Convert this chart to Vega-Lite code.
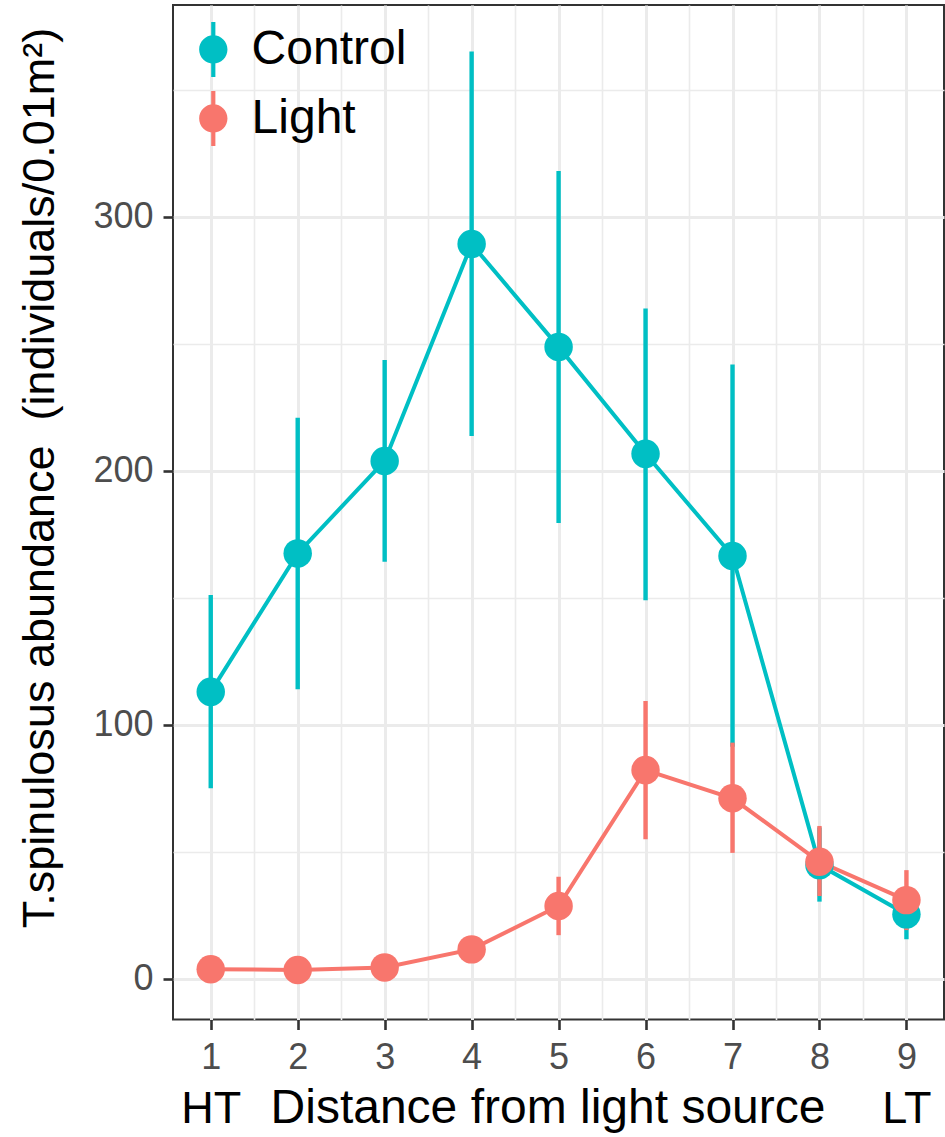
{
  "$schema": "https://vega.github.io/schema/vega-lite/v6.json",
  "width": 771,
  "height": 1014.5,
  "autosize": {"type": "none"},
  "padding": {"left": 173, "top": 5, "right": 1, "bottom": 117.5},
  "background": "white",
  "config": {
    "view": {"stroke": "#333333", "strokeWidth": 2},
    "font": "Liberation Sans"
  },
  "data": {
    "values": [
      {"dist": 1, "group": "Control", "mean": 113.0, "lo": 75.0, "hi": 151.1},
      {"dist": 2, "group": "Control", "mean": 167.5, "lo": 114.0, "hi": 220.9},
      {"dist": 3, "group": "Control", "mean": 203.9, "lo": 164.2, "hi": 243.6},
      {"dist": 4, "group": "Control", "mean": 289.3, "lo": 213.7, "hi": 365.1},
      {"dist": 5, "group": "Control", "mean": 248.8, "lo": 179.5, "hi": 318.0},
      {"dist": 6, "group": "Control", "mean": 206.7, "lo": 149.1, "hi": 263.9},
      {"dist": 7, "group": "Control", "mean": 166.5, "lo": 91.4, "hi": 241.9},
      {"dist": 8, "group": "Control", "mean": 44.8, "lo": 30.4, "hi": 59.6},
      {"dist": 9, "group": "Control", "mean": 25.4, "lo": 15.6, "hi": 35.0},
      {"dist": 1, "group": "Light", "mean": 3.8, "lo": 2.0, "hi": 5.6},
      {"dist": 2, "group": "Light", "mean": 3.5, "lo": 2.2, "hi": 4.8},
      {"dist": 3, "group": "Light", "mean": 4.5, "lo": 2.8, "hi": 6.2},
      {"dist": 4, "group": "Light", "mean": 11.6, "lo": 8.5, "hi": 14.7},
      {"dist": 5, "group": "Light", "mean": 28.7, "lo": 17.2, "hi": 40.2},
      {"dist": 6, "group": "Light", "mean": 82.2, "lo": 55.0, "hi": 109.4},
      {"dist": 7, "group": "Light", "mean": 71.1, "lo": 49.6, "hi": 93.0},
      {"dist": 8, "group": "Light", "mean": 46.1, "lo": 32.6, "hi": 60.2},
      {"dist": 9, "group": "Light", "mean": 31.0, "lo": 19.2, "hi": 42.8}
    ]
  },
  "resolve": {"axis": {"x": "independent"}},
  "layer": [
    {
      "mark": {"type": "rule", "strokeWidth": 4.4},
      "encoding": {
        "x": {
          "field": "dist", "type": "quantitative",
          "scale": {"domain": [0.566, 9.432], "nice": false, "zero": false},
          "axis": {
            "orient": "bottom", "values": [1, 9],
            "labelExpr": "datum.value == 1 ? 'HT' : 'LT'",
            "ticks": false, "tickSize": 0, "domain": false, "grid": false,
            "labelFontSize": 45, "labelColor": "black", "labelFont": "Liberation Sans",
            "labelPadding": 102.5, "labelBaseline": "alphabetic",
            "labelOverlap": false, "labelFlush": false, "title": null
          }
        },
        "y": {
          "field": "lo", "type": "quantitative",
          "scale": {"domain": [-16, 383.4], "nice": false, "zero": false},
          "axis": {
            "values": [0, 50, 100, 150, 200, 250, 300, 350],
            "labelExpr": "datum.value % 100 == 0 ? '' + datum.value : ''",
            "tickOpacity": {"condition": {"test": "datum.value % 100 != 0", "value": 0}, "value": 1},
            "gridWidth": {"condition": {"test": "datum.value % 100 != 0", "value": 1.6}, "value": 3},
            "grid": true, "gridColor": "#EBEBEB",
            "domain": false,
            "tickSize": 10, "tickWidth": 2.6, "tickColor": "#333333",
            "labelFontSize": 36, "labelColor": "#4D4D4D", "labelFont": "Liberation Sans",
            "labelPadding": 10, "labelOverlap": false, "labelFlush": false,
            "title": "T.spinulosus abundance \u00a0(individuals/0.01m²)",
            "titleFontSize": 45, "titleColor": "black", "titleFontWeight": "normal", "titleFont": "Liberation Sans",
            "titleAngle": 270, "titleX": -119.7, "titleY": 472.5,
            "titleAlign": "center", "titleBaseline": "alphabetic"
          }
        },
        "y2": {"field": "hi"},
        "stroke": {
          "field": "group", "type": "nominal",
          "scale": {"range": ["#00BFC4", "#F8766D"]},
          "legend": null
        }
      }
    },
    {
      "mark": {"type": "line", "strokeWidth": 4},
      "encoding": {
        "x": {"field": "dist", "type": "quantitative", "axis": null},
        "y": {"field": "mean", "type": "quantitative"},
        "stroke": {"field": "group", "type": "nominal", "legend": null}
      }
    },
    {
      "mark": {"type": "point", "filled": true, "size": 810, "opacity": 1, "strokeWidth": 0},
      "encoding": {
        "x": {
          "field": "dist", "type": "quantitative",
          "axis": {
            "orient": "bottom",
            "values": [1, 1.5, 2, 2.5, 3, 3.5, 4, 4.5, 5, 5.5, 6, 6.5, 7, 7.5, 8, 8.5, 9],
            "labelExpr": "datum.value % 1 == 0 ? '' + datum.value : ''",
            "tickOpacity": {"condition": {"test": "datum.value % 1 != 0", "value": 0}, "value": 1},
            "gridWidth": {"condition": {"test": "datum.value % 1 != 0", "value": 1.6}, "value": 3},
            "grid": true, "gridColor": "#EBEBEB",
            "domain": false,
            "tickSize": 10, "tickWidth": 2.6, "tickColor": "#333333",
            "labelFontSize": 36, "labelColor": "#4D4D4D", "labelFont": "Liberation Sans",
            "labelPadding": 38.5, "labelBaseline": "alphabetic",
            "labelOverlap": false, "labelFlush": false,
            "title": "Distance from light source",
            "titleFontSize": 48, "titleColor": "black", "titleFontWeight": "normal", "titleFont": "Liberation Sans",
            "titleX": 374.5, "titleY": 102.5, "titleAlign": "center", "titleBaseline": "alphabetic"
          }
        },
        "y": {"field": "mean", "type": "quantitative"},
        "fill": {
          "field": "group", "type": "nominal",
          "scale": {"domain": ["Control", "Light"], "range": ["#00BFC4", "#F8766D"]},
          "legend": {
            "orient": "none", "legendX": 12.8, "legendY": 17,
            "title": null,
            "symbolType": "M0.515,0C0.515,0.2844,0.2844,0.515,0,0.515C-0.2844,0.515,-0.515,0.2844,-0.515,0C-0.515,-0.2844,-0.2844,-0.515,0,-0.515C0.2844,-0.515,0.515,-0.2844,0.515,0ZM-0.076,-1L0.076,-1L0.076,1L-0.076,1Z",
            "symbolSize": 3025, "symbolStrokeWidth": 0, "symbolOpacity": 1,
            "labelFontSize": 48, "labelColor": "black", "labelFont": "Liberation Sans",
            "labelOffset": 10.8, "rowPadding": 14, "padding": 0
          }
        }
      }
    }
  ]
}
